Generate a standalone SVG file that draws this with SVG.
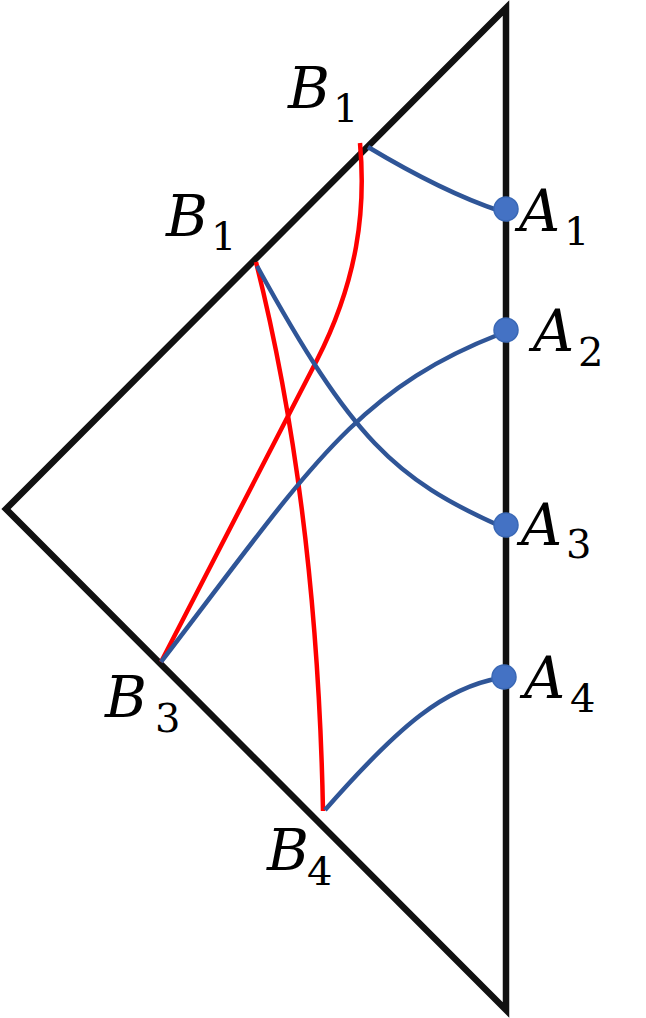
<svg xmlns="http://www.w3.org/2000/svg" width="646" height="1018" viewBox="0 0 646 1018">
<style>
.frame{fill:none;stroke:#111;stroke-width:6.5;stroke-linejoin:miter}
.geo{fill:none;stroke:#2F5597;stroke-width:4.5}
.red{fill:none;stroke:#FF0000;stroke-width:4.5}
.dot{fill:#4472C4;stroke:#3A68B5;stroke-width:1.5}
.it{font-family:"DejaVu Serif","Liberation Serif",serif;font-style:italic;font-size:57px;fill:#000}
.sub{font-family:"DejaVu Serif","Liberation Serif",serif;font-style:normal;font-size:40px;fill:#000}
</style>
<rect width="646" height="1018" fill="#fff"/>
<g id="frame">
<path class="frame" d="M506,8 L6,509 L506,1010 Z"/>
</g>
<g id="connectors">
<path class="red" d="M360,143 C366,210 357.8,280 317,360 L161,662"/>
<path class="red" d="M256,262 Q317,505 323,811"/>
<path class="geo" d="M368,147 Q443,192 500,211"/>
<path class="geo" d="M257,266 C352,439 395,479 500,526"/>
<path class="geo" d="M161,662 C307.5,471.6 353.5,391 500,334"/>
<path class="geo" d="M325,810 C400,724.5 445,687.5 500,678"/>
</g>
<g id="A1"><circle class="dot" cx="506" cy="209" r="12"/><text><tspan class="it" x="519" y="231">A</tspan><tspan class="sub" x="564" y="245">1</tspan></text></g>
<g id="A2"><circle class="dot" cx="506" cy="330" r="12"/><text><tspan class="it" x="533" y="351">A</tspan><tspan class="sub" x="578" y="366">2</tspan></text></g>
<g id="A3"><circle class="dot" cx="506" cy="525" r="12"/><text><tspan class="it" x="521" y="545">A</tspan><tspan class="sub" x="566" y="558">3</tspan></text></g>
<g id="A4"><circle class="dot" cx="504" cy="677" r="12"/><text><tspan class="it" x="524" y="698">A</tspan><tspan class="sub" x="570" y="712">4</tspan></text></g>
<g id="B1top"><text><tspan class="it" x="288" y="108">B</tspan><tspan class="sub" x="333" y="122">1</tspan></text></g>
<g id="B1left"><text><tspan class="it" x="166" y="236">B</tspan><tspan class="sub" x="211" y="250">1</tspan></text></g>
<g id="B3"><text><tspan class="it" x="105" y="717">B</tspan><tspan class="sub" x="155" y="732">3</tspan></text></g>
<g id="B4"><text><tspan class="it" x="267" y="870">B</tspan><tspan class="sub" x="307" y="885">4</tspan></text></g>
</svg>
